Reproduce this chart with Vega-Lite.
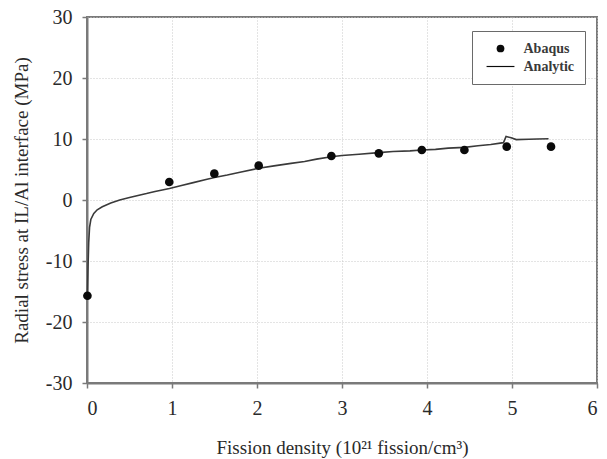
{
  "$schema": "https://vega.github.io/schema/vega-lite/v6.json",
  "autosize": {"type": "none"},
  "padding": {"left": 87, "top": 17, "right": 10, "bottom": 76},
  "width": 510,
  "height": 366,
  "background": "white",
  "config": {
    "font": "Liberation Serif",
    "view": {"stroke": "#7a7a7a", "strokeWidth": 2},
    "axis": {
      "domainColor": "#7a7a7a", "domainWidth": 2,
      "tickColor": "#7a7a7a", "tickWidth": 1.5, "tickSize": 5,
      "gridColor": "#c8c8c8", "gridDash": [1, 2], "gridWidth": 1,
      "labelFont": "Liberation Serif", "labelFontSize": 20, "labelColor": "#2a2a2a",
      "titleFont": "Liberation Serif", "titleFontSize": 19, "titleFontWeight": "normal", "titleColor": "#2a2a2a"
    }
  },
  "datasets": {
    "analytic": [
      {"x": 0.005, "y": -15.7}, {"x": 0.012, "y": -11}, {"x": 0.02, "y": -7}, {"x": 0.03, "y": -4.5},
      {"x": 0.045, "y": -3.2}, {"x": 0.08, "y": -2.2}, {"x": 0.12, "y": -1.6}, {"x": 0.18, "y": -1.1},
      {"x": 0.28, "y": -0.5}, {"x": 0.385, "y": 0.0}, {"x": 0.5, "y": 0.4}, {"x": 0.6, "y": 0.75},
      {"x": 0.7, "y": 1.05}, {"x": 0.8, "y": 1.4}, {"x": 0.97, "y": 1.9}, {"x": 1.1, "y": 2.35},
      {"x": 1.25, "y": 2.85}, {"x": 1.4, "y": 3.35}, {"x": 1.5, "y": 3.7}, {"x": 1.65, "y": 4.1},
      {"x": 1.8, "y": 4.55}, {"x": 2.02, "y": 5.2}, {"x": 2.2, "y": 5.6}, {"x": 2.4, "y": 6.0},
      {"x": 2.56, "y": 6.3}, {"x": 2.7, "y": 6.7}, {"x": 2.875, "y": 7.1}, {"x": 3.0, "y": 7.3},
      {"x": 3.2, "y": 7.5}, {"x": 3.43, "y": 7.76}, {"x": 3.6, "y": 7.95}, {"x": 3.8, "y": 8.05},
      {"x": 3.94, "y": 8.2}, {"x": 4.1, "y": 8.3}, {"x": 4.25, "y": 8.5}, {"x": 4.44, "y": 8.63},
      {"x": 4.6, "y": 8.9}, {"x": 4.75, "y": 9.1}, {"x": 4.9, "y": 9.4}, {"x": 4.93, "y": 10.4},
      {"x": 4.99, "y": 10.2}, {"x": 5.05, "y": 9.9}, {"x": 5.2, "y": 9.95}, {"x": 5.3, "y": 10.0},
      {"x": 5.43, "y": 10.05}
    ],
    "abaqus": [
      {"x": 0.005, "y": -15.7, "series": "Abaqus"},
      {"x": 0.968, "y": 2.95, "series": "Abaqus"},
      {"x": 1.498, "y": 4.32, "series": "Abaqus"},
      {"x": 2.02, "y": 5.63, "series": "Abaqus"},
      {"x": 2.875, "y": 7.21, "series": "Abaqus"},
      {"x": 3.433, "y": 7.65, "series": "Abaqus"},
      {"x": 3.939, "y": 8.2, "series": "Abaqus"},
      {"x": 4.44, "y": 8.2, "series": "Abaqus"},
      {"x": 4.938, "y": 8.74, "series": "Abaqus"},
      {"x": 5.459, "y": 8.74, "series": "Abaqus"}
    ]
  },
  "encoding": {
    "x": {
      "field": "x", "type": "quantitative",
      "scale": {"domain": [0, 6], "nice": false, "zero": false},
      "axis": {"values": [0, 1, 2, 3, 4, 5, 6], "title": "Fission density (10²¹ fission/cm³)", "labelPadding": 10, "titlePadding": 20, "labelExpr": "'' + datum.value"}
    },
    "y": {
      "field": "y", "type": "quantitative",
      "scale": {"domain": [-30, 30], "nice": false, "zero": false},
      "axis": {"values": [-30, -20, -10, 0, 10, 20, 30], "title": "Radial stress at IL/Al interface (MPa)", "labelPadding": 10, "titlePadding": 14, "labelExpr": "datum.value < 0 ? '-' + abs(datum.value) : '' + datum.value"}
    }
  },
  "layer": [
    {
      "data": {"name": "analytic"},
      "mark": {"type": "line", "color": "#3a3a3a", "strokeWidth": 1.6, "interpolate": "linear"}
    },
    {
      "data": {"name": "abaqus"},
      "mark": {"type": "point", "filled": true, "color": "#0a0a0a", "opacity": 1, "size": 75},
      "encoding": {
        "shape": {
          "field": "series", "type": "nominal",
          "scale": {"domain": ["Abaqus", "Analytic"], "range": ["circle", "M-3.6,-0.15L3.6,-0.15L3.6,0.15L-3.6,0.15Z"]},
          "legend": {
            "title": null, "orient": "none", "legendX": 385, "legendY": 14,
            "strokeColor": "#6a6a6a", "padding": 10.5, "fillColor": "white",
            "symbolSize": 60, "symbolOffset": 11, "labelOffset": 16, "rowPadding": 4,
            "labelFont": "Liberation Serif", "labelFontSize": 14, "labelFontWeight": "bold", "labelColor": "#3a3a3a",
            "encode": {
              "symbols": {
                "update": {
                  "fill": {"value": "#1a1a1a"},
                  "fillOpacity": {"value": 1},
                  "stroke": {"value": "transparent"},
                  "opacity": {"value": 1}
                }
              }
            }
          }
        }
      }
    }
  ]
}
